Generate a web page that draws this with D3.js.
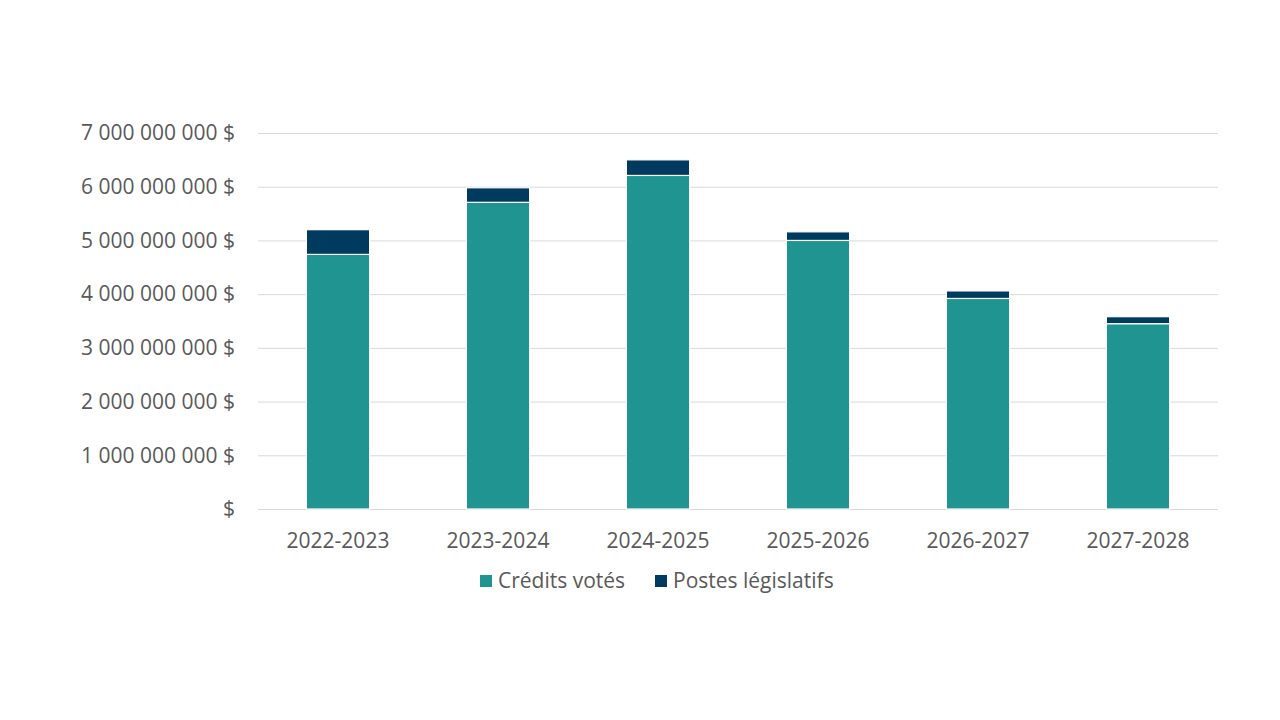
<!DOCTYPE html>
<html><head><meta charset="utf-8">
<script src="https://cdn.jsdelivr.net/npm/d3@7"></script>
<style>body{margin:0;background:#fff;}svg{display:block;}</style>
</head><body><svg id="c" width="1280" height="720"></svg>
<script>
const categories = ["2022-2023","2023-2024","2024-2025","2025-2026","2026-2027","2027-2028"];
const creditsVotes = [4.74e9, 5.71e9, 6.21e9, 5.00e9, 3.92e9, 3.45e9];
const postesLegislatifs = [0.46e9, 0.27e9, 0.29e9, 0.16e9, 0.14e9, 0.13e9];
const seriesNames = ["Crédits votés","Postes législatifs"];
const seriesColors = ["#209491","#003a5e"];
const yTicks = [0,1e9,2e9,3e9,4e9,5e9,6e9,7e9];

(function () {
const svg = d3.select("#c");
const font = "'Open Sans', 'Noto Sans', sans-serif";
const fs = 21;
const mLeft = 258, mRight = 1218, mTop = 133, mBottom = 509;
const x = d3.scaleBand().domain(categories).range([mLeft, mRight]).paddingInner(0.605).paddingOuter(0.3025);
const y = d3.scaleLinear().domain([0, 7e9]).range([mBottom, mTop]);

const fmt = v => v === 0 ? "$" : d3.format(",")(v).replace(/,/g, " ") + " $";

// gridlines
svg.append("g").selectAll("line").data(yTicks).join("line")
  .attr("x1", mLeft).attr("x2", mRight)
  .attr("y1", d => y(d) + 0.5).attr("y2", d => y(d) + 0.5)
  .attr("stroke", "#d9d9d9").attr("stroke-width", 1);

// y labels
svg.append("g").selectAll("text").data(yTicks).join("text")
  .attr("x", 235).attr("y", d => y(d)).attr("dy", "0.35em")
  .attr("text-anchor", "end").attr("font-family", font).attr("font-size", fs)
  .attr("fill", "#595959").text(fmt);

// stacked bars
const rows = categories.map((c, i) => ({cat: c, a: creditsVotes[i], b: postesLegislatifs[i]}));
const stack = d3.stack().keys(["a","b"])(rows);
svg.append("g").selectAll("g").data(stack).join("g")
  .attr("fill", (d, i) => seriesColors[i])
  .selectAll("rect").data(d => d).join("rect")
  .attr("x", d => x(d.data.cat)).attr("width", x.bandwidth())
  .attr("y", d => y(d[1])).attr("height", d => y(d[0]) - y(d[1]))
  .attr("stroke", "#ffffff").attr("stroke-width", 1.2);

// x labels
svg.append("g").selectAll("text").data(categories).join("text")
  .attr("x", d => x(d) + x.bandwidth() / 2).attr("y", 541).attr("dy", "0.35em")
  .attr("text-anchor", "middle").attr("font-family", font).attr("font-size", fs)
  .attr("fill", "#595959").text(d => d);

// legend
const legendX = [480, 655];
const lg = svg.append("g").selectAll("g").data(seriesNames).join("g")
  .attr("transform", (d, i) => `translate(${legendX[i]},581)`);
lg.append("rect").attr("x", 0).attr("y", -6).attr("width", 12).attr("height", 12)
  .attr("fill", (d, i) => seriesColors[i]);
lg.append("text").attr("x", 18).attr("y", 0).attr("dy", "0.35em")
  .attr("font-family", font).attr("font-size", fs).attr("fill", "#595959").text(d => d);
})();
</script></body></html>
